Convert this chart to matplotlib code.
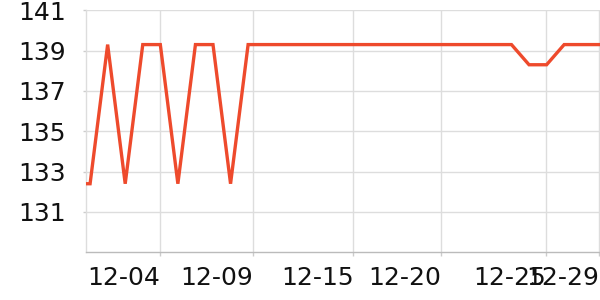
import matplotlib
matplotlib.use("Agg")
import matplotlib.pyplot as plt
import matplotlib.dates as mdates
import pandas as pd

# Data (daily values)
dates = pd.date_range("2023-11-29", "2023-12-30", freq="D")
values = [132.4, 132.4, 139.3, 132.4, 139.3, 139.3, 132.4, 139.3, 139.3, 132.4,
          139.3] + [139.3] * 15 + [138.3, 138.3, 139.3, 139.3, 139.3, 139.3]

tick_labels = ["12-04", "12-09", "12-15", "12-20", "12-25", "12-29"]
tick_times = pd.to_datetime(["2023-12-04 00:00", "2023-12-09 07:00", "2023-12-15 00:00",
                             "2023-12-20 00:00", "2023-12-25 23:00", "2023-12-29 00:00"])
y_ticks = [131, 133, 135, 137, 139, 141]

plt.rcParams['font.family'] = ['DejaVu Sans']
fig = plt.figure(figsize=(6, 3), dpi=100)
ax = fig.add_axes([85.7 / 600, 1 - 252.3 / 300, (600 - 85.7) / 600, (252.3 - 10.3) / 300])

ax.plot(dates, values, color="#ee4a2c", linewidth=2.4, solid_joinstyle="miter", zorder=3)

ax.set_xlim(pd.Timestamp("2023-11-29 18:00"), pd.Timestamp("2023-12-29 01:00"))
ax.set_ylim(129, 141)

ax.set_xticks(tick_times)
ax.set_xticklabels(tick_labels, ha="right")
ax.set_yticks(y_ticks)

ax.grid(True, color="#dddddd", linewidth=1)
ax.set_axisbelow(True)

for s in ["top", "right"]:
    ax.spines[s].set_visible(False)
ax.spines["left"].set_color("#dddddd")
ax.spines["bottom"].set_color("#bbbbbb")
ax.spines["left"].set_linewidth(1)
ax.spines["bottom"].set_linewidth(1)

ax.tick_params(axis="y", length=2.5, width=1, color="#cccccc", pad=12, labelsize=18, labelcolor="#111111")
ax.tick_params(axis="x", length=3, width=1, color="#cccccc", pad=7, labelsize=18, labelcolor="#111111")

fig.savefig("out.png", dpi=100)
